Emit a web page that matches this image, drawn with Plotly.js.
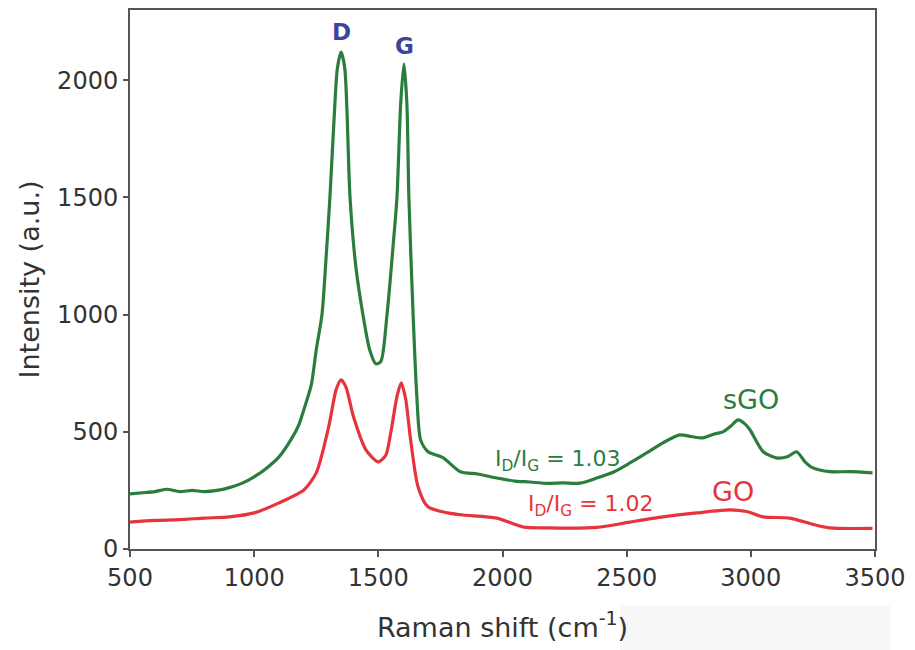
<!DOCTYPE html>
<html>
<head>
<meta charset="utf-8">
<script src="https://cdn.plot.ly/plotly-3.0.1.min.js"></script>
<style>html,body{margin:0;padding:0;background:#fff;}#chart{width:915px;height:650px;}</style>
</head>
<body>
<div id="chart"></div>
<script>
// Raman shift (cm^-1) and intensity (a.u.)
const sgoShift = [500,550,600,650,700,750,800,850,900,950,1000,1050,1100,1150,1180,1200,1230,1250,1273,1290,1305,1320,1335,1350,1365,1386,1410,1438,1465,1490,1510,1535,1560,1575,1590,1603,1615,1623,1640,1655,1670,1700,1760,1830,1900,1977,2050,2110,2180,2243,2312,2380,2450,2513,2580,2646,2714,2760,2807,2850,2888,2920,2948,2975,2997,3050,3103,3150,3184,3220,3250,3318,3400,3490];
const sgoIntensity = [235,240,245,255,245,250,245,250,262,280,308,345,393,470,530,594,700,850,1000,1250,1500,1800,2050,2120,2050,1500,1200,1000,850,790,800,1000,1300,1500,1900,2070,1900,1500,1000,650,466,415,390,330,320,303,290,286,280,282,281,303,330,367,410,453,487,480,474,490,500,525,551,535,508,415,389,395,415,370,346,330,330,325];

const goShift = [500,600,700,800,900,1000,1100,1200,1250,1300,1330,1350,1370,1400,1450,1500,1530,1550,1575,1592,1610,1630,1660,1700,1780,1841,1977,2083,2178,2380,2513,2646,2782,2915,2983,3050,3157,3250,3318,3490];
const goIntensity = [115,122,125,132,137,154,197,252,325,521,680,722,690,564,423,372,400,496,650,709,640,466,265,180,154,145,132,94,90,92,115,137,154,167,160,137,132,105,90,88];

const xTicks = [500,1000,1500,2000,2500,3000,3500];
const yTicks = [0,500,1000,1500,2000];

const font = "DejaVu Sans, Verdana, sans-serif";
const green = '#2b7d3e';
const red = '#e5343c';
const blue = '#3a4699';

const traces = [
  {x: sgoShift, y: sgoIntensity, name: 'sGO', mode: 'lines',
   line: {color: green, width: 3.2, shape: 'spline', smoothing: 0.7}},
  {x: goShift, y: goIntensity, name: 'GO', mode: 'lines',
   line: {color: red, width: 3.2, shape: 'spline', smoothing: 0.7}}
];

const layout = {
  width: 915, height: 650,
  margin: {l: 130, r: 40, t: 10, b: 101},
  paper_bgcolor: '#fff', plot_bgcolor: '#fff',
  showlegend: false,
  font: {family: font, size: 24, color: '#333'},
  xaxis: {
    range: [500, 3500], tickvals: xTicks, ticktext: xTicks.map(String),
    ticks: 'outside', ticklen: 6, tickwidth: 2, tickcolor: '#555',
    showline: true, linecolor: '#555', linewidth: 2, mirror: true,
    showgrid: false, zeroline: false,
    tickfont: {family: font, size: 24, color: '#333'},
    title: {text: 'Raman shift (cm<sup>-1</sup>)', font: {family: font, size: 27, color: '#333'}, standoff: 27}
  },
  yaxis: {
    range: [0, 2300], tickvals: yTicks, ticktext: yTicks.map(String),
    ticks: 'outside', ticklen: 5, tickwidth: 2, tickcolor: '#555',
    showline: true, linecolor: '#555', linewidth: 2, mirror: true,
    showgrid: false, zeroline: false,
    tickfont: {family: font, size: 24, color: '#333'},
    title: {text: 'Intensity (a.u.)', font: {family: font, size: 27, color: '#333'}, standoff: 10}
  },
  shapes: [
    {type: 'rect', xref: 'paper', yref: 'paper', x0: 0.658, x1: 1.02, y0: -0.105, y1: -0.19,
     fillcolor: '#f7f7f7', line: {width: 0}, layer: 'below'}
  ],
  annotations: [
    {x: 1350, y: 2205, xref: 'x', yref: 'y', text: '<b>D</b>', showarrow: false, font: {family: font, size: 23, color: blue}},
    {x: 1607, y: 2145, xref: 'x', yref: 'y', text: '<b>G</b>', showarrow: false, font: {family: font, size: 23, color: blue}},
    {x: 3001, y: 637, xref: 'x', yref: 'y', text: 'sGO', showarrow: false, font: {family: font, size: 27, color: green}},
    {x: 2928, y: 244, xref: 'x', yref: 'y', text: 'GO', showarrow: false, font: {family: font, size: 27, color: red}},
    {x: 2224, y: 378, xref: 'x', yref: 'y', text: 'I<sub>D</sub>/I<sub>G</sub> = 1.03', showarrow: false, font: {family: font, size: 22, color: green}},
    {x: 2356, y: 186, xref: 'x', yref: 'y', text: 'I<sub>D</sub>/I<sub>G</sub> = 1.02', showarrow: false, font: {family: font, size: 22, color: red}}
  ]
};

Plotly.newPlot('chart', traces, layout, {displayModeBar: false, staticPlot: true});
</script>
</body>
</html>
